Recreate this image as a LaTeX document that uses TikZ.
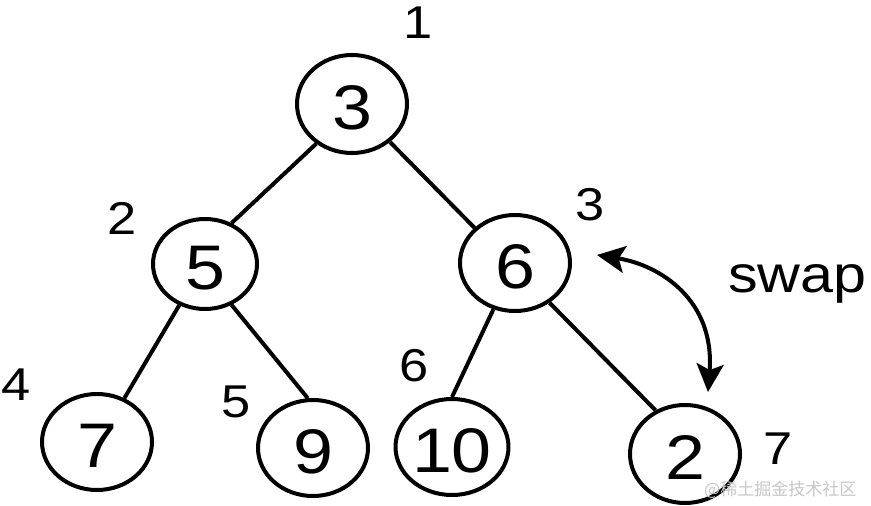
\documentclass[tikz,border=0pt]{standalone}
\usepackage{fontspec}
\setmainfont{Liberation Sans}
\newfontfamily\cjk{Noto Sans CJK SC}
\usetikzlibrary{shapes.geometric,arrows.meta}
\newcommand\hstretch[1]{\scalebox{1.14}[1]{#1}}
\begin{document}
\begin{tikzpicture}[x=1pt,y=-1pt,
  heapnode/.style={ellipse, draw, line width=4pt, minimum width=110pt, minimum height=96pt,
    inner sep=0pt, font=\fontsize{63}{63}\selectfont, text height=51pt, text depth=0pt},
  idx/.style={inner sep=0pt, font=\fontsize{46}{46}\selectfont},
  treeline/.style={line width=4pt},
  swaparrow/.style={line width=4pt,
    {Stealth[length=28pt,width=27pt,inset=6pt]}-{Stealth[length=28pt,width=27pt,inset=6pt]}}
]
\useasboundingbox (0,0) rectangle (871,506);
\fill[white] (0,0) rectangle (871,506);

\node[heapnode, minimum height=98pt] (r)   at (352,104) {\hstretch{3}};
\node[heapnode, minimum width=104pt, minimum height=90pt] (n5) at (205,264) {\hstretch{5}};
\node[heapnode] (n6)  at (515,263) {\hstretch{6}};
\node[heapnode] (n7)  at (97,442)  {\hstretch{7}};
\node[heapnode] (n9)  at (313,448) {\hstretch{9}};
\node[heapnode] (n10) at (452,447) {\hstretch{10}};
\node[heapnode, minimum height=98pt] (n2) at (685,454) {\hstretch{2}};

\node[idx] (l1) at (418,23)  {\hstretch{1}};
\node[idx] (l2) at (122,218) {\hstretch{2}};
\node[idx] (l3) at (590,205) {\hstretch{3}};
\node[idx] (l4) at (16,385)  {\hstretch{4}};
\node[idx] (l5) at (236,402) {\hstretch{5}};
\node[idx] (l6) at (414,366) {\hstretch{6}};
\node[idx] (l7) at (778,449) {\hstretch{7}};

\node[inner sep=0pt, anchor=base west, font=\fontsize{52}{52}\selectfont] (sw) at (728,292) {\hstretch{swap}};

\draw[treeline] (r.-132) -- (n5.57);
\draw[treeline] (r.-45) -- (n6.139);
\draw[treeline] (n5.-122) -- (n7.58);
\draw[treeline] (n5.-57) -- (n9.96);
\draw[treeline] (n6.-115) -- (n10.90);
\draw[treeline] (n6.-49) -- (n2.124);

\coordinate (sa) at (597,255);
\coordinate (sb) at (708,392);
\draw[swaparrow] (sa) .. controls (660,265) and (715,300) .. (sb);

\node[inner sep=0pt, anchor=west, text=black!22, font=\cjk\fontsize{17}{17}\selectfont] (wm) at (704,490) {@稀土掘金技术社区};
\end{tikzpicture}
\end{document}
